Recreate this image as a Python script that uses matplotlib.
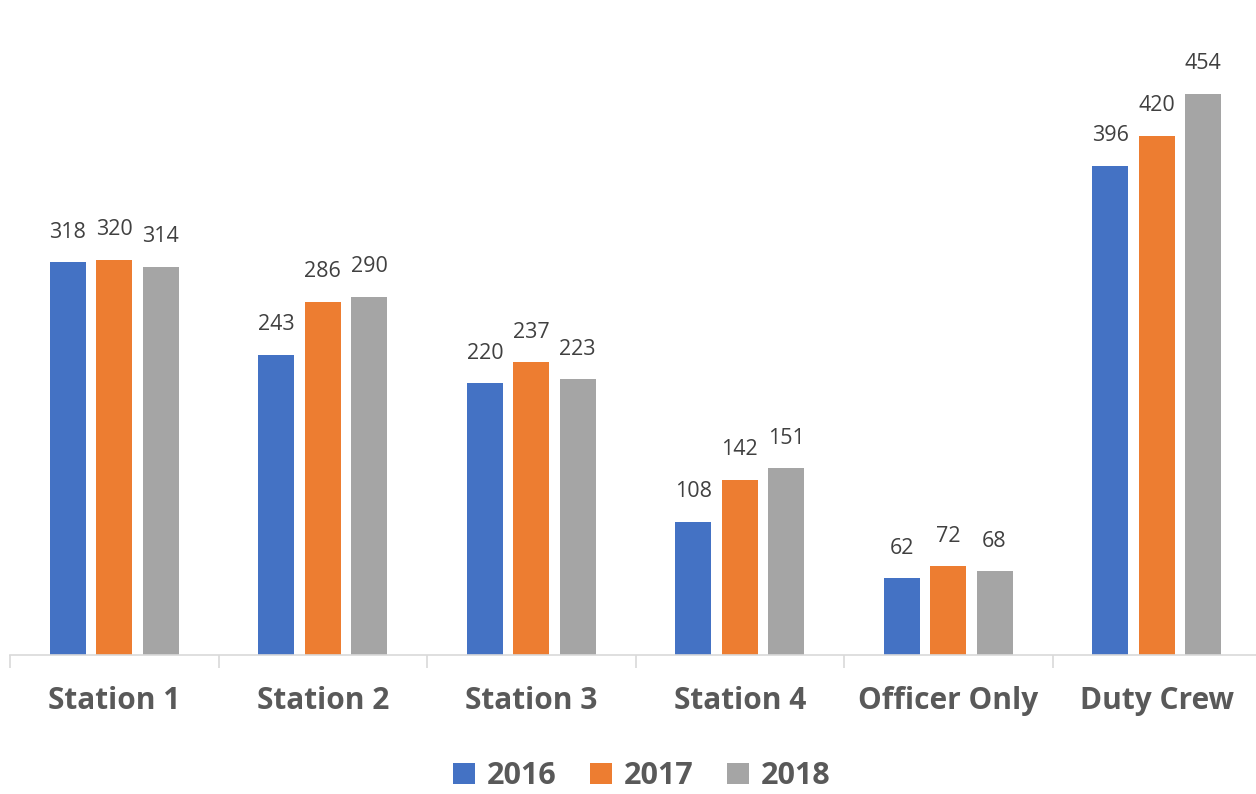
import matplotlib.pyplot as plt
import numpy as np
from matplotlib.patches import Patch

categories = ["Station 1", "Station 2", "Station 3", "Station 4", "Officer Only", "Duty Crew"]
series_names = ["2016", "2017", "2018"]
v2016 = [318, 243, 220, 108, 62, 396]
v2017 = [320, 286, 237, 142, 72, 420]
v2018 = [314, 290, 223, 151, 68, 454]
colors = ["#4472C4", "#ED7D31", "#A5A5A5"]

plt.rcParams['font.family'] = ['Open Sans', 'DejaVu Sans']
fig = plt.figure(figsize=(12.56, 7.94), dpi=100)
ax = fig.add_axes([10/1256, 139/794, 1251/1256, 655/794])

x = np.arange(len(categories))
width = 0.173
offsets = [-0.222, 0.0, 0.222]
for vals, off, col, name in zip([v2016, v2017, v2018], offsets, colors, series_names):
    bars = ax.bar(x + off, vals, width, color=col, label=name)
    for b, v in zip(bars, vals):
        ax.annotate(str(v), (b.get_x() + b.get_width()/2, v), xytext=(0, 14),
                    textcoords='offset points', ha='center', va='bottom',
                    fontsize=15.5, color='#404040')

ax.set_xlim(-0.5, len(categories) - 0.5)
ax.set_ylim(0, 530)
ax.set_yticks([])
for s in ['top', 'right', 'left']:
    ax.spines[s].set_visible(False)
ax.spines['bottom'].set_color('#D9D9D9')
ax.spines['bottom'].set_linewidth(1.2)
ax.set_xticks(x)
ax.set_xticklabels(categories, fontsize=21.5, fontweight='bold', color='#595959')
ax.tick_params(axis='x', which='major', length=0, pad=22)
ax.set_xticks(np.arange(-0.5, len(categories) - 0.4, 1.0), minor=True)
ax.tick_params(axis='x', which='minor', length=9, color='#D9D9D9', width=1.2)

handles = [Patch(facecolor=c, label=n) for c, n in zip(colors, series_names)]
fig.legend(handles=handles, loc='center', bbox_to_anchor=(0.511, 1 - 776/794),
           ncol=3, frameon=False, prop={'size': 22, 'weight': 'bold'},
           labelcolor='#595959', handlelength=0.7, handleheight=0.7,
           handletextpad=0.4, columnspacing=1.1)

fig.savefig('out.png', dpi=100)
